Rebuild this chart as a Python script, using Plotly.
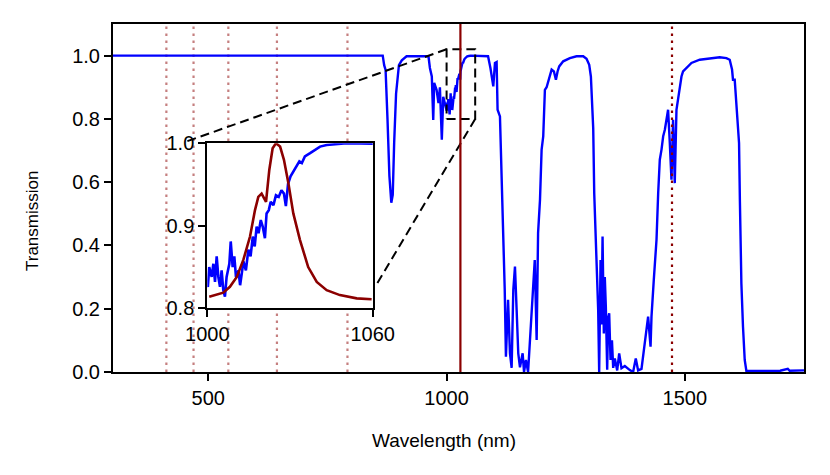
import plotly.graph_objects as go

# ---------------- data ----------------
wavelength = [300, 866, 869, 872, 876, 880, 884, 887, 890, 894, 900, 906, 916, 962, 965, 969, 972, 974,
              979, 983, 986, 990, 993, 997,
              1000.2, 1000.7, 1001.6, 1002.2, 1002.8, 1003.4, 1004.0, 1004.6, 1005.2, 1005.8, 1006.4,
              1007.0, 1008.0, 1008.5, 1009.2, 1009.8, 1010.4, 1011.3, 1011.9, 1012.5, 1013.1, 1014.0,
              1014.9, 1015.7, 1016.5, 1017.2, 1017.9, 1018.6, 1019.4, 1020.1, 1020.9, 1021.5, 1022.3,
              1023.0, 1024.0, 1024.9, 1025.9, 1026.9, 1027.8, 1028.5, 1029.3, 1030.2, 1031.2, 1032.4,
              1033.4, 1034.3, 1035.4, 1037.3, 1039.1, 1040.9, 1043.3, 1046.9, 1050.6, 1087,
              1092, 1098, 1101.5, 1105, 1107, 1112, 1115.5, 1119, 1122, 1124.5, 1129, 1133, 1136.5, 1140,
              1143.5, 1147, 1150.4, 1154, 1159.6, 1162.5, 1166.5, 1171, 1178, 1181.5, 1185, 1189, 1192,
              1196, 1199.4, 1202.8, 1206.3, 1209.9, 1215.4, 1220.4, 1225.2, 1229.4, 1232.9, 1236.3, 1244.7,
              1258.7, 1272.7, 1286.7, 1293.7, 1299.3, 1302.8, 1305.6, 1307.7, 1309.8, 1311.5, 1314.7,
              1316.5, 1318.1, 1320.2, 1321.5, 1323.1, 1325, 1327.3, 1330, 1332, 1334.2, 1337, 1339,
              1341.2, 1344, 1347, 1349.6, 1353, 1358,
              1362.2, 1367, 1374, 1384.5, 1391.4, 1397, 1401.9, 1409, 1416, 1419.5, 1422.9, 1428, 1430,
              1434.8, 1440.5, 1444, 1447.4, 1451, 1454.5, 1458, 1461.5, 1464.8, 1468.4, 1471.9, 1475.3,
              1478.8, 1482.4, 1487.8, 1492.9, 1496.2, 1503.4, 1513.8, 1531.2, 1552.2, 1573.1, 1587.2,
              1594.1, 1599, 1601, 1604.6, 1609.5, 1613.7, 1615.5, 1618.6, 1622, 1625.6, 1629.1, 1700,
              1716, 1720, 1750]
transmission = [1.0, 1.0, 0.97, 0.955, 0.80, 0.62, 0.535, 0.56, 0.725, 0.88, 0.97, 0.985, 0.998, 0.998,
                0.961, 0.934, 0.797, 0.914, 0.892, 0.85, 0.90, 0.734, 0.87, 0.85,
                0.826, 0.850, 0.838, 0.854, 0.832, 0.863, 0.838, 0.826, 0.846, 0.822, 0.814,
                0.838, 0.854, 0.881, 0.850, 0.863, 0.838, 0.846, 0.828, 0.842, 0.857, 0.846,
                0.871, 0.863, 0.887, 0.875, 0.899, 0.891, 0.907, 0.899, 0.885, 0.915, 0.919,
                0.929, 0.925, 0.937, 0.935, 0.943, 0.939, 0.924, 0.951, 0.960, 0.966, 0.972,
                0.978, 0.976, 0.984, 0.988, 0.992, 0.996, 0.998, 0.999, 1.0, 0.998,
                0.961, 0.903, 0.977, 0.98, 0.829, 0.808, 0.618, 0.46, 0.26, 0.048, 0.228, 0.059, 0.013, 0.26,
                0.333, 0.196, 0.059, 0.015, 0.059, 0.0, 0.038, 0.0, 0.165, 0.25, 0.354, 0.101, 0.439,
                0.544, 0.703, 0.745, 0.892, 0.90, 0.934, 0.956, 0.95, 0.924, 0.95, 0.966, 0.982,
                0.992, 0.998, 0.998, 0.99, 0.971, 0.934, 0.85, 0.77, 0.566, 0.481, 0.39,
                0.30, 0.196, 0.0, 0.25, 0.354, 0.15, 0.428, 0.122, 0.30, 0.205, 0.007, 0.17,
                0.186, 0.038, 0.10, 0.013, 0.043, 0.005,
                0.059, 0.012, 0.019, 0.006, 0.0, 0.043, 0.005, 0.01, 0.09, 0.122, 0.175, 0.08, 0.175,
                0.291, 0.418, 0.566, 0.671, 0.703, 0.745, 0.766, 0.808, 0.829, 0.724, 0.608, 0.797,
                0.597, 0.829, 0.882, 0.934, 0.95, 0.961, 0.977, 0.987, 0.992, 0.995, 0.992,
                0.987, 0.956, 0.924, 0.924, 0.829, 0.724, 0.54, 0.28, 0.143, 0.038, 0.003, 0.004,
                0.01, 0.004, 0.005]

# laser spectrum shown in the inset (scaled to inset axis)
laser_wavelength = [1000.7, 1005.8, 1008.2, 1010.7, 1013.1, 1015.5, 1017.3, 1018.5, 1019.7, 1021.3,
                    1022.5, 1023.7, 1024.9, 1026.4, 1027.8, 1029.4, 1031.2, 1033.6, 1036.6, 1039.7,
                    1043.3, 1048.1, 1054.2, 1059.6]
laser_intensity = [0.814, 0.819, 0.826, 0.838, 0.859, 0.887, 0.919, 0.935, 0.939, 0.929,
                   0.968, 0.994, 1.0, 0.996, 0.98, 0.952, 0.915, 0.883, 0.85, 0.832,
                   0.822, 0.816, 0.812, 0.811]

harmonic_lines = [412, 469, 542, 644, 792]   # light dotted lines
pump_line = 1029                              # solid dark red line
idler_line = 1473                             # dark dotted line

zoom_x = [1000, 1060]
zoom_y = [0.8, 1.02]
connector_1 = [(1000, 1.02), (454, 0.7285)]
connector_2 = [(1060, 0.8), (850, 0.269)]

main_xticks = [500, 1000, 1500]
main_yticks = [0.0, 0.2, 0.4, 0.6, 0.8, 1.0]
inset_xticks = [1000, 1060]
inset_yticks = [0.8, 0.9, 1.0]

# ---------------- figure ----------------
BLUE = "#0000ff"
DARKRED = "#8b0000"
FONT = "Liberation Sans, Arial, Helvetica, sans-serif"

fig = go.Figure()

def vline_xy(xs):
    X, Y = [], []
    for v in xs:
        X += [v, v, None]
        Y += [0, 1.1, None]
    return X, Y

hx, hy = vline_xy(harmonic_lines)
fig.add_trace(go.Scatter(x=hx, y=hy, mode="lines", hoverinfo="skip",
                         line=dict(color="rgba(139,0,0,0.5)", width=2.2, dash="2.5px,4.5px"),
                         xaxis="x", yaxis="y", showlegend=False))

fig.add_trace(go.Scatter(x=wavelength, y=transmission, mode="lines",
                         line=dict(color=BLUE, width=2.4), xaxis="x", yaxis="y", showlegend=False))

ix, iy = vline_xy([idler_line])
fig.add_trace(go.Scatter(x=ix, y=iy, mode="lines", hoverinfo="skip",
                         line=dict(color=DARKRED, width=2.2, dash="2.5px,4.5px"),
                         xaxis="x", yaxis="y", showlegend=False))

# zoom rectangle and connectors
rx = [zoom_x[0], zoom_x[1], zoom_x[1], zoom_x[0], zoom_x[0]]
ry = [zoom_y[0], zoom_y[0], zoom_y[1], zoom_y[1], zoom_y[0]]
fig.add_trace(go.Scatter(x=rx, y=ry, mode="lines", line=dict(color="black", width=2, dash="9px,5px"),
                         xaxis="x", yaxis="y", showlegend=False, hoverinfo="skip"))
for c in (connector_1, connector_2):
    fig.add_trace(go.Scatter(x=[c[0][0], c[1][0]], y=[c[0][1], c[1][1]], mode="lines",
                             line=dict(color="black", width=2, dash="9px,5px"),
                             xaxis="x", yaxis="y", showlegend=False, hoverinfo="skip"))

px_, py_ = vline_xy([pump_line])
fig.add_trace(go.Scatter(x=px_, y=py_, mode="lines", hoverinfo="skip",
                         line=dict(color=DARKRED, width=2.2),
                         xaxis="x", yaxis="y", showlegend=False))

# inset traces
fig.add_trace(go.Scatter(x=wavelength, y=transmission, mode="lines",
                         line=dict(color=BLUE, width=2.6), xaxis="x2", yaxis="y2", showlegend=False))
fig.add_trace(go.Scatter(x=laser_wavelength, y=laser_intensity, mode="lines",
                         line=dict(color=DARKRED, width=2.6), xaxis="x2", yaxis="y2", showlegend=False))

L, R, T, B = 113, 26, 24, 103
W, H = 830, 475
pw, ph = W - L - R, H - T - B

def xdom(px):
    return (px - L) / pw

def ydom(py):
    return (H - B - py) / ph

axis_common = dict(showline=True, linecolor="black", linewidth=2, mirror=True, ticks="outside",
                   ticklen=7, tickwidth=1.8, tickcolor="black", showgrid=False, zeroline=False,
                   tickfont=dict(family=FONT, size=20, color="black"))

fig.update_layout(
    width=W, height=H,
    margin=dict(l=L, r=R, t=T, b=B, autoexpand=False),
    paper_bgcolor="white", plot_bgcolor="white",
    font=dict(family=FONT, size=18, color="black"),
    xaxis=dict(range=[300, 1750], tickvals=main_xticks, ticktext=[str(v) for v in main_xticks],
               domain=[0, 1], anchor="y", **axis_common),
    yaxis=dict(range=[0, 1.1], tickvals=main_yticks, ticktext=[f"{v:.1f}" for v in main_yticks],
               domain=[0, 1], anchor="x", **axis_common),
    xaxis2=dict(range=[1000, 1060], tickvals=inset_xticks, ticktext=[str(v) for v in inset_xticks],
                domain=[xdom(207.3), xdom(372.7)], anchor="y2", **axis_common),
    yaxis2=dict(range=[0.8, 1.0], tickvals=inset_yticks, ticktext=[f"{v:.1f}" for v in inset_yticks],
                domain=[ydom(308.3), ydom(143.3)], anchor="x2", **axis_common),
    showlegend=False,
    annotations=[
        dict(text="Wavelength (nm)", xref="paper", yref="paper", x=xdom(444), y=ydom(440),
             xanchor="center", yanchor="middle", showarrow=False,
             font=dict(family=FONT, size=19, color="black")),
        dict(text="Transmission", xref="paper", yref="paper", x=xdom(32), y=ydom(221),
             xanchor="center", yanchor="middle", showarrow=False, textangle=-90,
             font=dict(family=FONT, size=17, color="black")),
    ],
)

fig.write_html("out.html", config={"displayModeBar": False},
               post_script="document.body.style.margin='0';document.body.style.overflow='hidden';")
